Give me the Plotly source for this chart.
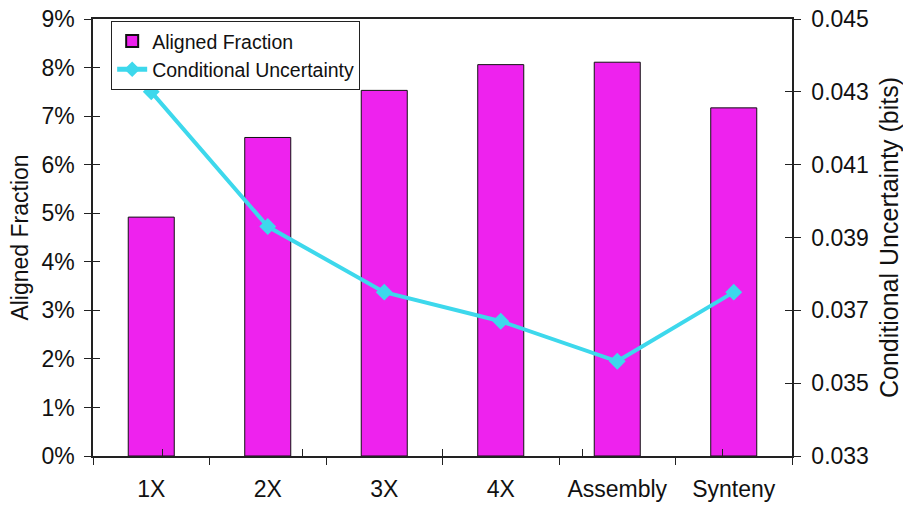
import plotly.graph_objects as go

categories = ["1X", "2X", "3X", "4X", "Assembly", "Synteny"]
aligned_fraction = [4.92, 6.56, 7.53, 8.06, 8.11, 7.17]          # percent
conditional_uncertainty = [0.0430, 0.0393, 0.0375, 0.0367, 0.0356, 0.0375]  # bits

FONT = "Liberation Sans, Arial, sans-serif"
BAR_COLOR = "#EE22EE"
LINE_COLOR = "#3DD8EC"
INK = "#111111"

fig = go.Figure()

fig.add_trace(go.Bar(
    x=categories, y=aligned_fraction, name="Aligned Fraction",
    marker=dict(color=BAR_COLOR, line=dict(color=INK, width=1)),
    xaxis="x", yaxis="y",
))
fig.add_trace(go.Scatter(
    x=categories, y=conditional_uncertainty, name="Conditional Uncertainty",
    mode="lines+markers",
    line=dict(color=LINE_COLOR, width=4),
    marker=dict(symbol="diamond", size=13, color=LINE_COLOR),
    xaxis="x", yaxis="y2",
))
# empty helper traces so the overlay axes (inner half of each tick mark) are drawn
fig.add_trace(go.Scatter(
    x=categories, y=[None] * len(categories), xaxis="x2", yaxis="y3",
    showlegend=False, hoverinfo="skip", mode="lines",
))
fig.add_trace(go.Scatter(
    x=categories, y=[None] * len(categories), xaxis="x2", yaxis="y4",
    showlegend=False, hoverinfo="skip", mode="lines",
))

tick_font = dict(family=FONT, size=23, color=INK)
axis_line = dict(showline=True, linecolor="#222222", linewidth=1.5)

fig.update_layout(
    width=903, height=505,
    margin=dict(l=93, r=111, t=19, b=49),
    paper_bgcolor="white", plot_bgcolor="white",
    font=dict(family=FONT, size=23, color=INK),
    bargap=0.605,
    showlegend=True,
    legend=dict(
        x=0.026, y=0.996, xanchor="left", yanchor="top",
        bgcolor="white", bordercolor="#222222", borderwidth=1,
        font=dict(family=FONT, size=19.5, color=INK),
        tracegroupgap=0, itemsizing="constant",
    ),
    xaxis=dict(
        type="category", categoryorder="array", categoryarray=categories,
        tickson="boundaries", ticks="outside", ticklen=7, tickcolor="#222222",
        tickfont=tick_font, mirror=True, showgrid=False, zeroline=False,
        ticklabelstandoff=12, automargin=False,
        **axis_line,
    ),
    xaxis2=dict(
        type="category", categoryorder="array", categoryarray=categories,
        overlaying="x", anchor="y", side="bottom", automargin=False,
        tickson="boundaries", ticks="inside", ticklen=7, tickcolor="#222222",
        showticklabels=False, showgrid=False, zeroline=False, showline=False,
    ),
    yaxis=dict(
        range=[0, 9], dtick=1, ticksuffix="%",
        ticks="outside", ticklen=7, tickcolor="#222222",
        tickfont=tick_font, showgrid=False, zeroline=False,
        ticklabelstandoff=5, automargin=False,
        title=dict(text="Aligned Fraction", font=dict(family=FONT, size=23), standoff=6),
        **axis_line,
    ),
    yaxis2=dict(
        range=[0.033, 0.045], tick0=0.033, dtick=0.002, tickformat=".3f",
        overlaying="y", side="right", anchor="x",
        ticks="outside", ticklen=7, tickcolor="#222222",
        tickfont=tick_font, showgrid=False, zeroline=False,
        ticklabelstandoff=6, automargin=False,
        title=dict(text="Conditional Uncertainty (bits)", font=dict(family=FONT, size=25), standoff=17),
        **axis_line,
    ),
    yaxis3=dict(
        range=[0, 9], dtick=1, overlaying="y", side="left", anchor="x2", automargin=False,
        ticks="inside", ticklen=7, tickcolor="#222222",
        showticklabels=False, showgrid=False, zeroline=False, showline=False,
    ),
    yaxis4=dict(
        range=[0.033, 0.045], tick0=0.033, dtick=0.002, overlaying="y", side="right", anchor="x2",
        automargin=False,
        ticks="inside", ticklen=7, tickcolor="#222222",
        showticklabels=False, showgrid=False, zeroline=False, showline=False,
    ),
)

fig.write_html("out.html")
